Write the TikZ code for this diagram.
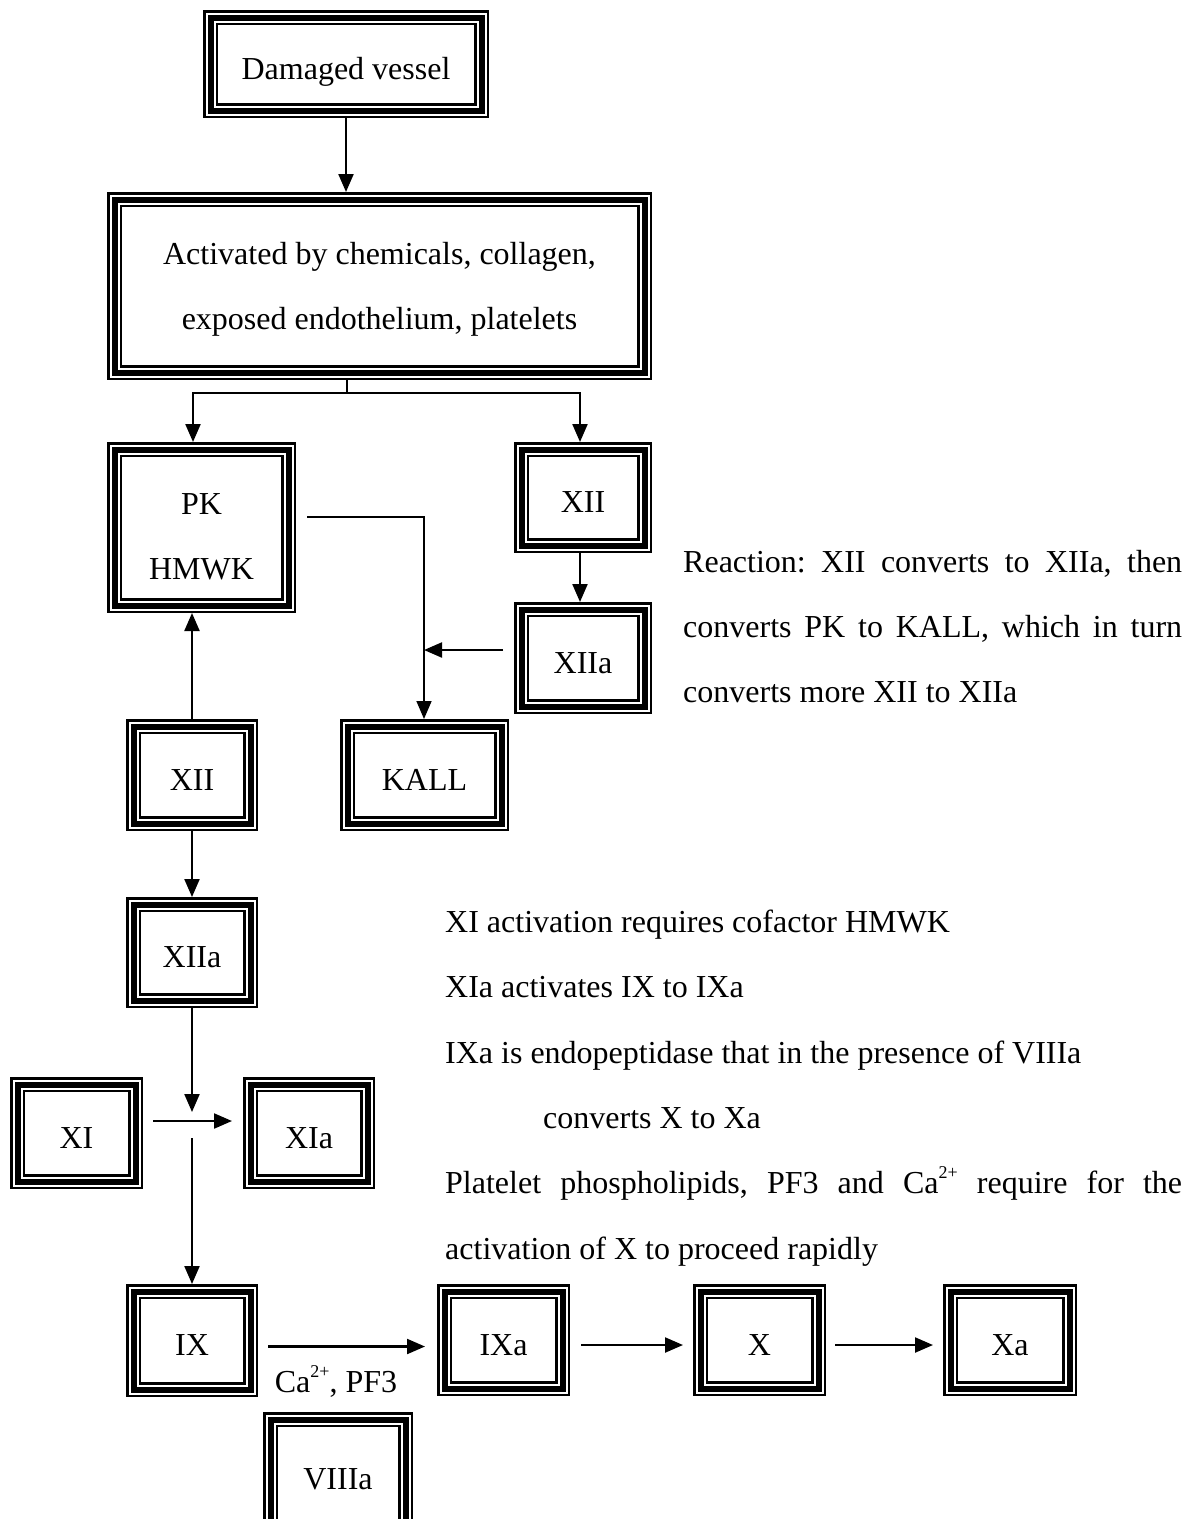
\documentclass[tikz,border=0pt]{standalone}
\usepackage{fontspec}
\setmainfont{Liberation Serif}
\frenchspacing
\usetikzlibrary{arrows.meta,calc}
\tikzset{
  tbox/.style={inner sep=0pt, outer sep=0pt, fill=white, align=center,
    path picture={
      \draw[line width=2.5pt] ([shift={(1.25pt,1.25pt)}]path picture bounding box.south west) rectangle ([shift={(-1.25pt,-1.25pt)}]path picture bounding box.north east);
      \draw[line width=6pt] ([shift={(7.5pt,7.5pt)}]path picture bounding box.south west) rectangle ([shift={(-7.5pt,-7.5pt)}]path picture bounding box.north east);
      \draw[line width=2.5pt] ([shift={(13.75pt,13.75pt)}]path picture bounding box.south west) rectangle ([shift={(-13.75pt,-13.75pt)}]path picture bounding box.north east);
    }},
  one/.style={text height=30pt, text depth=0pt},
  arr/.style={-{Triangle[length=18pt,width=15pt]}, line width=2.2pt},
  ln/.style={line width=2.2pt},
  para/.style={anchor=base west, inner sep=0pt},
}
\newcommand{\sups}[1]{\raisebox{15pt}{\fontsize{18pt}{18pt}\selectfont #1}}
\begin{document}
\begin{tikzpicture}[x=1pt,y=-1pt,font=\fontsize{32pt}{65pt}\selectfont]
\useasboundingbox (0,0) rectangle (1195,1519);
\clip (0,0) rectangle (1195,1519);
\fill[white] (0,0) rectangle (1195,1519);

% boxes
\node[tbox,one,minimum width=286pt,minimum height=108pt] (dv) at (346,64) {Damaged vessel};
\node[tbox,minimum width=545pt,minimum height=188pt] (act) at (379.5,286) {\rule{0pt}{28pt}Activated by chemicals, collagen,\\exposed endothelium, platelets};
\node[tbox,minimum width=189pt,minimum height=171pt] (pk) at (201.5,527.5) {\rule{0pt}{40pt}PK\\HMWK};
\node[tbox,one,minimum width=138pt,minimum height=111pt] (xiiR) at (583,497.5) {XII};
\node[tbox,one,minimum width=138pt,minimum height=112pt] (xiiaR) at (583,658) {XIIa};
\node[tbox,one,minimum width=132pt,minimum height=112pt] (xiiL) at (192,775) {XII};
\node[tbox,one,minimum width=169pt,minimum height=112pt] (kall) at (424.5,775) {KALL};
\node[tbox,one,minimum width=132pt,minimum height=111pt] (xiiaL) at (192,952.5) {XIIa};
\node[tbox,one,minimum width=133pt,minimum height=112pt] (xi) at (76.5,1133) {XI};
\node[tbox,one,minimum width=132pt,minimum height=112pt] (xia) at (309,1133) {XIa};
\node[tbox,one,minimum width=132pt,minimum height=113pt] (ix) at (192,1340.5) {IX};
\node[tbox,one,minimum width=150pt,minimum height=124pt] (viiia) at (338,1474) {VIIIa};
\node[tbox,one,minimum width=133pt,minimum height=112pt] (ixa) at (503.5,1340) {IXa};
\node[tbox,one,minimum width=133pt,minimum height=112pt] (x) at (759.5,1340) {X};
\node[tbox,one,minimum width=134pt,minimum height=112pt] (xa) at (1010,1340) {Xa};

% connectors
\draw[arr] (dv.south) -- (dv.south |- act.north);
\coordinate (sp) at (347,393);
\coordinate (jl) at (193,393);
\coordinate (jr) at (580,393);
\draw[ln] (sp |- act.south) -- (sp);
\draw[arr] (sp) -- (jl) -- (jl |- pk.north);
\draw[arr] (sp) -- (jr) -- (jr |- xiiR.north);
\draw[arr] (jr |- xiiR.south) -- (jr |- xiiaR.north);
\coordinate (pkc) at (307,517);
\coordinate (kx) at (424,517);
\draw[arr,line width=1.6pt] (pkc) -- (kx) -- (kx |- kall.north);
\coordinate (xa1) at (503,650);
\draw[arr] (xa1) -- (kx |- xa1);
\draw[arr] (xiiL.north) -- (xiiL.north |- pk.south);
\draw[arr] (xiiL.south) -- (xiiaL.north);
\coordinate (m1) at (192,1112);
\draw[arr] (xiiaL.south) -- (m1);
\coordinate (h1) at (153,1121);
\coordinate (h2) at (232,1121);
\draw[arr] (h1) -- (h2);
\coordinate (m2) at (192,1138);
\draw[arr] (m2) -- (m2 |- ix.north);
\coordinate (a1) at ([shift={(10pt,-6pt)}]ix.east);
\draw[arr] (a1) -- ([xshift=-12pt]a1 -| ixa.west);
\coordinate (a2) at ([shift={(11pt,-5pt)}]ixa.east);
\draw[arr] (a2) -- ([xshift=-10pt]a2 -| x.west);
\coordinate (a3) at ([shift={(9pt,-5pt)}]x.east);
\draw[arr] (a3) -- ([xshift=-10pt]a3 -| xa.west);
\node[inner sep=0pt] (calab) at (336,1381) {Ca\sups{2+}, PF3};

% texts
\node[para] (t1) at (683,572) {\makebox[499pt][s]{Reaction: XII converts to XIIa, then}};
\node[para] (t2) at (683,637) {\makebox[499pt][s]{converts PK to KALL, which in turn}};
\node[para] (t3) at (683,702) {converts more XII to XIIa};
\node[para] (t4) at (445,932) {XI activation requires cofactor HMWK};
\node[para] (t5) at (445,997) {XIa activates IX to IXa};
\node[para] (t6) at (445,1063) {IXa is endopeptidase that in the presence of VIIIa};
\node[para] (t7) at (543,1128) {converts X to Xa};
\node[para] (t8) at (445,1193) {\makebox[737pt][s]{Platelet phospholipids, PF3 and Ca\sups{2+} require for the}};
\node[para] (t9) at (445,1259) {activation of X to proceed rapidly};
\end{tikzpicture}
\end{document}
